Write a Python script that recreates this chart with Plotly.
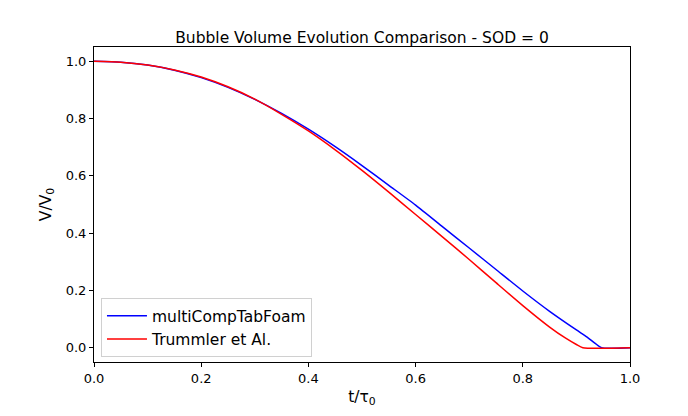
import plotly.graph_objects as go

t_blue = [0.0, 0.05, 0.1, 0.15, 0.2, 0.25, 0.3, 0.35, 0.4, 0.45, 0.5, 0.55, 0.6, 0.65,
          0.7, 0.75, 0.8, 0.85, 0.9, 0.92, 0.935, 0.947, 1.0]
v_blue = [1.0, 0.997, 0.987, 0.969, 0.943, 0.909, 0.867, 0.818, 0.763, 0.702, 0.636, 0.567,
          0.498, 0.423, 0.348, 0.273, 0.198, 0.127, 0.062, 0.037, 0.015, 0.0, 0.0]

t_red = [0.0, 0.05, 0.1, 0.15, 0.2, 0.25, 0.3, 0.35, 0.4, 0.45, 0.5, 0.55, 0.6, 0.65,
         0.7, 0.75, 0.8, 0.85, 0.88, 0.9, 0.912, 1.0]
v_red = [1.0, 0.997, 0.987, 0.970, 0.945, 0.911, 0.868, 0.815, 0.757, 0.691, 0.619, 0.543,
         0.465, 0.387, 0.308, 0.227, 0.147, 0.072, 0.033, 0.011, 0.0, 0.0]

x_ticks = [0.0, 0.2, 0.4, 0.6, 0.8, 1.0]
y_ticks = [0.0, 0.2, 0.4, 0.6, 0.8, 1.0]

font = "DejaVu Sans"

fig = go.Figure()
fig.add_trace(go.Scatter(x=t_blue, y=v_blue, mode="lines", name="multiCompTabFoam",
                         line=dict(color="#0000ff", width=1.5, shape="spline", smoothing=0.6)))
fig.add_trace(go.Scatter(x=t_red, y=v_red, mode="lines", name="Trummler et Al.",
                         line=dict(color="#ff0000", width=1.5, shape="spline", smoothing=0.6)))

axis_common = dict(showline=True, linecolor="black", linewidth=1, mirror=True,
                   ticks="outside", ticklen=4, tickcolor="black", showgrid=False,
                   zeroline=False, tickfont=dict(family=font, size=13, color="black"))

fig.update_layout(
    width=688, height=416,
    margin=dict(l=94, r=58, t=47, b=54),
    paper_bgcolor="white", plot_bgcolor="white",
    font=dict(family=font, color="black"),
    title=dict(text="Bubble Volume Evolution Comparison - SOD = 0",
               x=(94 + 630) / 2 / 688, xanchor="center",
               y=1 - 38 / 416, yanchor="middle",
               font=dict(family=font, size=15.5, color="black")),
    xaxis=dict(range=[0, 1], tickvals=x_ticks, tickformat=".1f",
               title=dict(text="t/τ<sub>0</sub>", font=dict(family=font, size=15.5), standoff=6),
               **axis_common),
    yaxis=dict(range=[-0.05, 1.05], tickvals=y_ticks, tickformat=".1f",
               title=dict(text="V/V<sub>0</sub>", font=dict(family=font, size=15.5), standoff=10),
               **axis_common),
    legend=dict(x=0.013, y=0.015, xanchor="left", yanchor="bottom",
                bgcolor="rgba(255,255,255,0.8)", bordercolor="#d0d0d0", borderwidth=1,
                font=dict(family=font, size=15.5, color="black"), tracegroupgap=0,
                itemwidth=40),
    showlegend=True,
)

fig.write_html("out.html")
